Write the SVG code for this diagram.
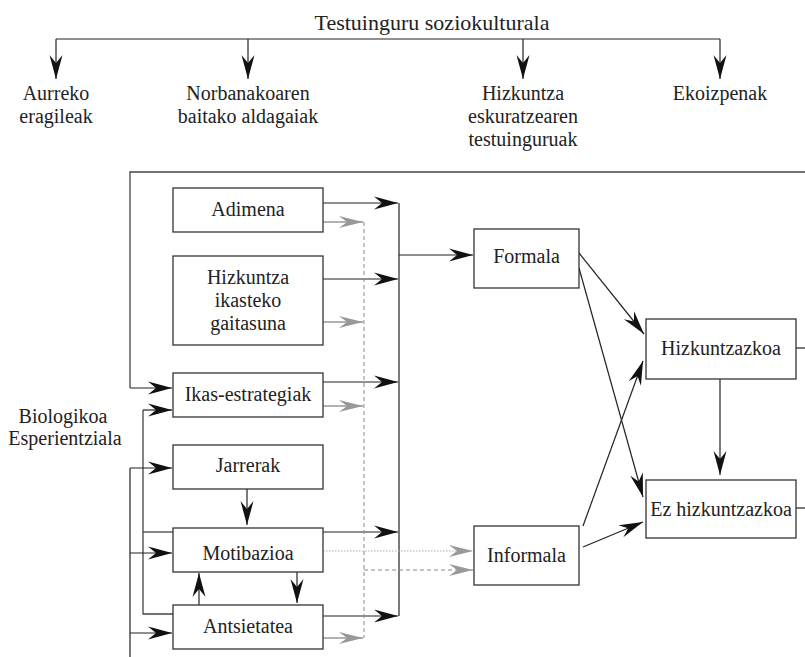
<svg xmlns="http://www.w3.org/2000/svg" width="805" height="657" viewBox="0 0 805 657">
<style>
text{font-family:"Liberation Serif",Tinos,"Times New Roman",Times,"DejaVu Serif",serif;font-size:20px;fill:#222;text-anchor:middle}
.t{font-size:22px}
.lbl{font-size:20px}
.box{fill:#fff;stroke:#333;stroke-width:1.3}
.c{fill:none;stroke:#222;stroke-width:1.2}
.g{fill:none;stroke:#444;stroke-width:1.3}
.ga{fill:none;stroke:#999;stroke-width:1.3}
.dash{fill:none;stroke:#888;stroke-width:1;stroke-dasharray:4 3}
.dot{fill:none;stroke:#aaa;stroke-width:1.2;stroke-dasharray:1.5 1.5}
.ab{marker-end:url(#ab)}
.ag{marker-end:url(#ag)}
</style>
<defs>
<marker id="ab" markerUnits="userSpaceOnUse" viewBox="-25 -7 26 14" markerWidth="26" markerHeight="14" refX="0" refY="0" orient="auto">
<path d="M0,0 L-24,-6.5 L-16,0 L-24,6.5 Z" fill="#111"/>
</marker>
<marker id="ag" markerUnits="userSpaceOnUse" viewBox="-25 -7 26 14" markerWidth="26" markerHeight="14" refX="0" refY="0" orient="auto">
<path d="M0,0 L-24,-6 L-16,0 L-24,6 Z" fill="#999"/>
</marker>
</defs>

<g id="connectors">
<path class="c" d="M56,39 H720"/>
<path class="c ab" d="M56,39 V79"/>
<path class="c ab" d="M248,39 V79"/>
<path class="c ab" d="M523,39 V79"/>
<path class="c ab" d="M720,39 V79"/>
<path class="g" d="M805,172 H130 V388"/>
<path class="c ab" d="M130,388 H172"/>
<path class="g" d="M143,410 V614 H173"/>
<path class="g" d="M143,532 H173"/>
<path class="c ab" d="M143,410 H172"/>
<path class="c" d="M130,657 V468"/>
<path class="c ab" d="M130,468 H172"/>
<path class="c ab" d="M130,553 H172"/>
<path class="c ab" d="M130,633 H172"/>
<path class="c ab" d="M247,489 V525"/>
<path class="c ab" d="M297,572 V603"/>
<path class="c ab" d="M199,605 V573"/>
<path class="c ab" d="M323,203 H398"/>
<path class="c ab" d="M323,279 H398"/>
<path class="c ab" d="M323,382 H398"/>
<path class="c ab" d="M323,532 H398"/>
<path class="c ab" d="M323,616 H398"/>
<path class="c" d="M399,203 V616"/>
<path class="c ab" d="M399,255 H473"/>
<path class="ga ag" d="M323,222 H363"/>
<path class="ga ag" d="M323,322 H363"/>
<path class="ga ag" d="M323,406 H363"/>
<path class="ga ag" d="M323,638 H363"/>
<path class="dash" d="M364,222 V638"/>
<path class="dash ag" d="M364,570 H473"/>
<path class="dot ag" d="M323,551 H473"/>
<path class="c ab" d="M579,253 L644,334"/>
<path class="c ab" d="M579,268 L643,497"/>
<path class="c ab" d="M583,526 L643,361"/>
<path class="c ab" d="M583,547 L643,522"/>
<path class="c ab" d="M720,379 V475"/>
<path class="c" d="M796,348 H805"/>
<path class="c" d="M796,508 H805"/>
</g>

<g id="title"><text class="t" x="432" y="30">Testuinguru soziokulturala</text></g>
<g id="aurreko"><text class="lbl" x="56" y="100">Aurreko</text><text class="lbl" x="56" y="123">eragileak</text></g>
<g id="norbanakoaren"><text class="lbl" x="248" y="100">Norbanakoaren</text><text class="lbl" x="248" y="123">baitako aldagaiak</text></g>
<g id="hizkuntza-eskuratzearen"><text class="lbl" x="523" y="100">Hizkuntza</text><text class="lbl" x="523" y="123">eskuratzearen</text><text class="lbl" x="523" y="146">testuinguruak</text></g>
<g id="ekoizpenak"><text class="lbl" x="720" y="100">Ekoizpenak</text></g>
<g id="biologikoa"><text x="63" y="423">Biologikoa</text><text x="65" y="445">Esperientziala</text></g>

<g id="adimena"><rect class="box" x="173" y="188" width="150" height="44"/><text x="248" y="216">Adimena</text></g>
<g id="gaitasuna"><rect class="box" x="173" y="256" width="150" height="89"/><text x="248" y="284">Hizkuntza</text><text x="248" y="307">ikasteko</text><text x="248" y="330">gaitasuna</text></g>
<g id="ikas-estrategiak"><rect class="box" x="173" y="373" width="150" height="44"/><text x="248" y="401">Ikas-estrategiak</text></g>
<g id="jarrerak"><rect class="box" x="173" y="445" width="150" height="44"/><text x="248" y="472">Jarrerak</text></g>
<g id="motibazioa"><rect class="box" x="173" y="528" width="150" height="44"/><text x="248" y="560">Motibazioa</text></g>
<g id="antsietatea"><rect class="box" x="173" y="605" width="150" height="44"/><text x="248" y="633">Antsietatea</text></g>
<g id="formala"><rect class="box" x="474" y="229" width="105" height="59"/><text x="526.5" y="263">Formala</text></g>
<g id="informala"><rect class="box" x="474" y="526" width="105" height="59"/><text x="526.5" y="562">Informala</text></g>
<g id="hizkuntzazkoa"><rect class="box" x="646" y="319" width="150" height="60"/><text x="721" y="355">Hizkuntzazkoa</text></g>
<g id="ez-hizkuntzazkoa"><rect class="box" x="646" y="480" width="150" height="58"/><text x="721" y="516">Ez hizkuntzazkoa</text></g>
</svg>
